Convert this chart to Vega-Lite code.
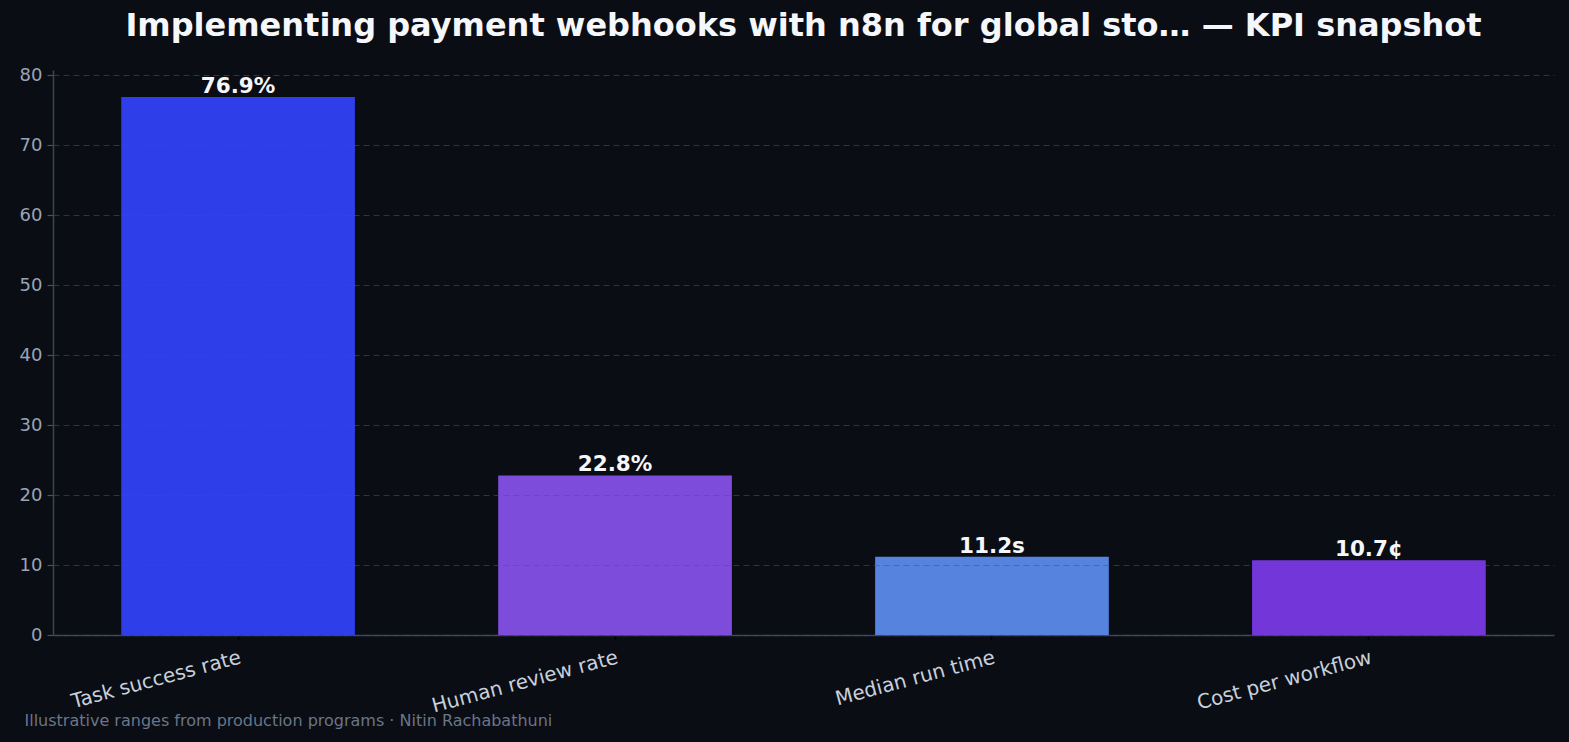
{
  "$schema": "https://vega.github.io/schema/vega-lite/v6.json",
  "width": 1501,
  "height": 565,
  "autosize": {"type": "none"},
  "padding": {"left": 53, "top": 70, "right": 15, "bottom": 107},
  "background": "#0a0d14",
  "config": {
    "view": {"stroke": null},
    "font": "DejaVu Sans"
  },
  "title": {
    "text": "Implementing payment webhooks with n8n for global sto… — KPI snapshot",
    "font": "DejaVu Sans",
    "fontSize": 32,
    "fontWeight": "bold",
    "color": "#f5f7fa",
    "anchor": "middle",
    "baseline": "alphabetic",
    "offset": -2
  },
  "data": {
    "values": [
      {"kpi": "Task success rate", "value": 76.9, "label": "76.9%", "color": "#2e3fea"},
      {"kpi": "Human review rate", "value": 22.8, "label": "22.8%", "color": "#7e4cdb"},
      {"kpi": "Median run time", "value": 11.2, "label": "11.2s", "color": "#5583de"},
      {"kpi": "Cost per workflow", "value": 10.7, "label": "10.7¢", "color": "#7336d9"}
    ]
  },
  "encoding": {
    "x": {
      "field": "kpi",
      "type": "nominal",
      "sort": null,
      "scale": {"paddingInner": 0.38, "paddingOuter": 0.181},
      "axis": {
        "title": "Illustrative ranges from production programs · Nitin Rachabathuni",
        "titleX": -29,
        "titleY": 85,
        "titleAlign": "left",
        "titleAnchor": null,
        "titleBaseline": "middle",
        "titleAngle": 0,
        "titleFont": "DejaVu Sans",
        "titleFontSize": 16,
        "titleFontWeight": "normal",
        "titleColor": "#6b7587",
        "labelAngle": -15,
        "labelAlign": "right",
        "labelBaseline": "top",
        "labelFont": "DejaVu Sans",
        "labelFontSize": 20,
        "labelColor": "#c8d0dc",
        "labelPadding": 7,
        "labelDx": -6,
        "labelLimit": 0,
        "labelOverlap": false,
        "tickColor": "#000000",
        "tickSize": 5,
        "tickWidth": 1.5,
        "domainColor": "#3b4456",
        "domainWidth": 1.5,
        "grid": false
      }
    },
    "y": {
      "field": "value",
      "type": "quantitative",
      "scale": {"domain": [0, 80.745], "nice": false},
      "axis": {
        "title": null,
        "values": [0, 10, 20, 30, 40, 50, 60, 70, 80],
        "labelFont": "DejaVu Sans",
        "labelFontSize": 18,
        "labelColor": "#9aa4b6",
        "labelPadding": 5,
        "tickColor": "#4a5366",
        "tickSize": 6,
        "tickWidth": 1.2,
        "domainColor": "#3b4456",
        "domainWidth": 1.5,
        "grid": true,
        "gridColor": "#4a5570",
        "gridOpacity": 0.55,
        "gridDash": [6, 4],
        "gridWidth": 1.2,
        "zindex": 1
      }
    }
  },
  "layer": [
    {
      "mark": {"type": "bar"},
      "encoding": {
        "color": {"field": "color", "type": "nominal", "scale": null, "legend": null}
      }
    },
    {
      "mark": {
        "type": "text",
        "baseline": "alphabetic",
        "dy": -4,
        "font": "DejaVu Sans",
        "fontSize": 21.5,
        "fontWeight": "bold",
        "color": "#f5f7fa"
      },
      "encoding": {
        "text": {"field": "label", "type": "nominal"}
      }
    }
  ]
}
